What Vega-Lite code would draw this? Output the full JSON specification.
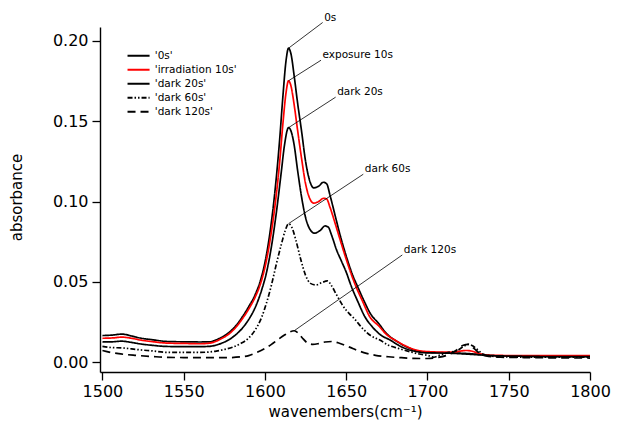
{
  "$schema": "https://vega.github.io/schema/vega-lite/v6.json",
  "width": 490,
  "height": 345,
  "autosize": {"type": "none"},
  "padding": {"left": 100, "top": 27, "right": 27, "bottom": 58},
  "background": "white",
  "config": {
    "view": {"stroke": null},
    "font": "DejaVu Sans",
    "axis": {
      "domainColor": "black", "domainWidth": 1.4, "tickColor": "black", "tickWidth": 1.3, "tickSize": 8,
      "labelColor": "black", "labelFont": "DejaVu Sans", "labelFontSize": 16,
      "titleColor": "black", "titleFont": "DejaVu Sans", "titleFontSize": 15, "titleFontWeight": "normal",
      "grid": false
    }
  },
  "datasets": {
    "spectra": [
      {"series": "'0s'", "wavenumber": 1500, "absorbance": 0.0165},
      {"series": "'0s'", "wavenumber": 1506, "absorbance": 0.0168},
      {"series": "'0s'", "wavenumber": 1512, "absorbance": 0.0174},
      {"series": "'0s'", "wavenumber": 1518, "absorbance": 0.0162},
      {"series": "'0s'", "wavenumber": 1524, "absorbance": 0.0148},
      {"series": "'0s'", "wavenumber": 1530, "absorbance": 0.0140},
      {"series": "'0s'", "wavenumber": 1540, "absorbance": 0.0128},
      {"series": "'0s'", "wavenumber": 1550, "absorbance": 0.0126},
      {"series": "'0s'", "wavenumber": 1560, "absorbance": 0.0125},
      {"series": "'0s'", "wavenumber": 1566, "absorbance": 0.0126},
      {"series": "'0s'", "wavenumber": 1570, "absorbance": 0.0138},
      {"series": "'0s'", "wavenumber": 1574, "absorbance": 0.0158},
      {"series": "'0s'", "wavenumber": 1578, "absorbance": 0.0185},
      {"series": "'0s'", "wavenumber": 1582, "absorbance": 0.0225},
      {"series": "'0s'", "wavenumber": 1586, "absorbance": 0.0280},
      {"series": "'0s'", "wavenumber": 1590, "absorbance": 0.0345},
      {"series": "'0s'", "wavenumber": 1594, "absorbance": 0.0420},
      {"series": "'0s'", "wavenumber": 1597, "absorbance": 0.0500},
      {"series": "'0s'", "wavenumber": 1600, "absorbance": 0.0620},
      {"series": "'0s'", "wavenumber": 1603, "absorbance": 0.0800},
      {"series": "'0s'", "wavenumber": 1606, "absorbance": 0.1050},
      {"series": "'0s'", "wavenumber": 1609, "absorbance": 0.1380},
      {"series": "'0s'", "wavenumber": 1611, "absorbance": 0.1650},
      {"series": "'0s'", "wavenumber": 1613, "absorbance": 0.1880},
      {"series": "'0s'", "wavenumber": 1614.5, "absorbance": 0.1955},
      {"series": "'0s'", "wavenumber": 1616, "absorbance": 0.1920},
      {"series": "'0s'", "wavenumber": 1618, "absorbance": 0.1780},
      {"series": "'0s'", "wavenumber": 1620, "absorbance": 0.1620},
      {"series": "'0s'", "wavenumber": 1622.5, "absorbance": 0.1440},
      {"series": "'0s'", "wavenumber": 1625, "absorbance": 0.1250},
      {"series": "'0s'", "wavenumber": 1627.5, "absorbance": 0.1130},
      {"series": "'0s'", "wavenumber": 1630, "absorbance": 0.1085},
      {"series": "'0s'", "wavenumber": 1633, "absorbance": 0.1095},
      {"series": "'0s'", "wavenumber": 1636, "absorbance": 0.1120},
      {"series": "'0s'", "wavenumber": 1638, "absorbance": 0.1110},
      {"series": "'0s'", "wavenumber": 1640, "absorbance": 0.1040},
      {"series": "'0s'", "wavenumber": 1643, "absorbance": 0.0920},
      {"series": "'0s'", "wavenumber": 1646, "absorbance": 0.0800},
      {"series": "'0s'", "wavenumber": 1650, "absorbance": 0.0660},
      {"series": "'0s'", "wavenumber": 1654, "absorbance": 0.0540},
      {"series": "'0s'", "wavenumber": 1657, "absorbance": 0.0470},
      {"series": "'0s'", "wavenumber": 1661, "absorbance": 0.0380},
      {"series": "'0s'", "wavenumber": 1665, "absorbance": 0.0300},
      {"series": "'0s'", "wavenumber": 1670, "absorbance": 0.0240},
      {"series": "'0s'", "wavenumber": 1675, "absorbance": 0.0175},
      {"series": "'0s'", "wavenumber": 1681, "absorbance": 0.0130},
      {"series": "'0s'", "wavenumber": 1687, "absorbance": 0.0095},
      {"series": "'0s'", "wavenumber": 1693, "absorbance": 0.0072},
      {"series": "'0s'", "wavenumber": 1700, "absorbance": 0.0060},
      {"series": "'0s'", "wavenumber": 1710, "absorbance": 0.0058},
      {"series": "'0s'", "wavenumber": 1720, "absorbance": 0.0055},
      {"series": "'0s'", "wavenumber": 1726, "absorbance": 0.0052},
      {"series": "'0s'", "wavenumber": 1732, "absorbance": 0.0047},
      {"series": "'0s'", "wavenumber": 1740, "absorbance": 0.0040},
      {"series": "'0s'", "wavenumber": 1760, "absorbance": 0.0036},
      {"series": "'0s'", "wavenumber": 1780, "absorbance": 0.0035},
      {"series": "'0s'", "wavenumber": 1800, "absorbance": 0.0035},

      {"series": "'irradiation 10s'", "wavenumber": 1500, "absorbance": 0.0148},
      {"series": "'irradiation 10s'", "wavenumber": 1506, "absorbance": 0.0150},
      {"series": "'irradiation 10s'", "wavenumber": 1512, "absorbance": 0.0155},
      {"series": "'irradiation 10s'", "wavenumber": 1518, "absorbance": 0.0148},
      {"series": "'irradiation 10s'", "wavenumber": 1524, "absorbance": 0.0136},
      {"series": "'irradiation 10s'", "wavenumber": 1530, "absorbance": 0.0128},
      {"series": "'irradiation 10s'", "wavenumber": 1540, "absorbance": 0.0118},
      {"series": "'irradiation 10s'", "wavenumber": 1550, "absorbance": 0.0116},
      {"series": "'irradiation 10s'", "wavenumber": 1560, "absorbance": 0.0114},
      {"series": "'irradiation 10s'", "wavenumber": 1566, "absorbance": 0.0118},
      {"series": "'irradiation 10s'", "wavenumber": 1570, "absorbance": 0.0130},
      {"series": "'irradiation 10s'", "wavenumber": 1574, "absorbance": 0.0150},
      {"series": "'irradiation 10s'", "wavenumber": 1578, "absorbance": 0.0176},
      {"series": "'irradiation 10s'", "wavenumber": 1582, "absorbance": 0.0215},
      {"series": "'irradiation 10s'", "wavenumber": 1586, "absorbance": 0.0268},
      {"series": "'irradiation 10s'", "wavenumber": 1590, "absorbance": 0.0330},
      {"series": "'irradiation 10s'", "wavenumber": 1594, "absorbance": 0.0405},
      {"series": "'irradiation 10s'", "wavenumber": 1597, "absorbance": 0.0480},
      {"series": "'irradiation 10s'", "wavenumber": 1600, "absorbance": 0.0590},
      {"series": "'irradiation 10s'", "wavenumber": 1603, "absorbance": 0.0750},
      {"series": "'irradiation 10s'", "wavenumber": 1606, "absorbance": 0.0960},
      {"series": "'irradiation 10s'", "wavenumber": 1609, "absorbance": 0.1240},
      {"series": "'irradiation 10s'", "wavenumber": 1611, "absorbance": 0.1480},
      {"series": "'irradiation 10s'", "wavenumber": 1613, "absorbance": 0.1680},
      {"series": "'irradiation 10s'", "wavenumber": 1614.5, "absorbance": 0.1752},
      {"series": "'irradiation 10s'", "wavenumber": 1616, "absorbance": 0.1720},
      {"series": "'irradiation 10s'", "wavenumber": 1618, "absorbance": 0.1600},
      {"series": "'irradiation 10s'", "wavenumber": 1620, "absorbance": 0.1450},
      {"series": "'irradiation 10s'", "wavenumber": 1622.5, "absorbance": 0.1270},
      {"series": "'irradiation 10s'", "wavenumber": 1625, "absorbance": 0.1110},
      {"series": "'irradiation 10s'", "wavenumber": 1627.5, "absorbance": 0.1020},
      {"series": "'irradiation 10s'", "wavenumber": 1630, "absorbance": 0.0990},
      {"series": "'irradiation 10s'", "wavenumber": 1633, "absorbance": 0.1000},
      {"series": "'irradiation 10s'", "wavenumber": 1636, "absorbance": 0.1020},
      {"series": "'irradiation 10s'", "wavenumber": 1638, "absorbance": 0.1015},
      {"series": "'irradiation 10s'", "wavenumber": 1640, "absorbance": 0.0965},
      {"series": "'irradiation 10s'", "wavenumber": 1643, "absorbance": 0.0870},
      {"series": "'irradiation 10s'", "wavenumber": 1646, "absorbance": 0.0770},
      {"series": "'irradiation 10s'", "wavenumber": 1650, "absorbance": 0.0640},
      {"series": "'irradiation 10s'", "wavenumber": 1653, "absorbance": 0.0550},
      {"series": "'irradiation 10s'", "wavenumber": 1656, "absorbance": 0.0470},
      {"series": "'irradiation 10s'", "wavenumber": 1660, "absorbance": 0.0380},
      {"series": "'irradiation 10s'", "wavenumber": 1664.5, "absorbance": 0.0282},
      {"series": "'irradiation 10s'", "wavenumber": 1670, "absorbance": 0.0225},
      {"series": "'irradiation 10s'", "wavenumber": 1675, "absorbance": 0.0170},
      {"series": "'irradiation 10s'", "wavenumber": 1680, "absorbance": 0.0137},
      {"series": "'irradiation 10s'", "wavenumber": 1687, "absorbance": 0.0098},
      {"series": "'irradiation 10s'", "wavenumber": 1693, "absorbance": 0.0075},
      {"series": "'irradiation 10s'", "wavenumber": 1700, "absorbance": 0.0065},
      {"series": "'irradiation 10s'", "wavenumber": 1710, "absorbance": 0.0062},
      {"series": "'irradiation 10s'", "wavenumber": 1716, "absorbance": 0.0062},
      {"series": "'irradiation 10s'", "wavenumber": 1720, "absorbance": 0.0068},
      {"series": "'irradiation 10s'", "wavenumber": 1724, "absorbance": 0.0072},
      {"series": "'irradiation 10s'", "wavenumber": 1728, "absorbance": 0.0066},
      {"series": "'irradiation 10s'", "wavenumber": 1732, "absorbance": 0.0052},
      {"series": "'irradiation 10s'", "wavenumber": 1740, "absorbance": 0.0042},
      {"series": "'irradiation 10s'", "wavenumber": 1760, "absorbance": 0.0040},
      {"series": "'irradiation 10s'", "wavenumber": 1780, "absorbance": 0.0040},
      {"series": "'irradiation 10s'", "wavenumber": 1800, "absorbance": 0.0040},

      {"series": "'dark 20s'", "wavenumber": 1500, "absorbance": 0.0125},
      {"series": "'dark 20s'", "wavenumber": 1506, "absorbance": 0.0126},
      {"series": "'dark 20s'", "wavenumber": 1512, "absorbance": 0.0130},
      {"series": "'dark 20s'", "wavenumber": 1518, "absorbance": 0.0122},
      {"series": "'dark 20s'", "wavenumber": 1524, "absorbance": 0.0112},
      {"series": "'dark 20s'", "wavenumber": 1530, "absorbance": 0.0105},
      {"series": "'dark 20s'", "wavenumber": 1540, "absorbance": 0.0097},
      {"series": "'dark 20s'", "wavenumber": 1550, "absorbance": 0.0096},
      {"series": "'dark 20s'", "wavenumber": 1560, "absorbance": 0.0096},
      {"series": "'dark 20s'", "wavenumber": 1566, "absorbance": 0.0098},
      {"series": "'dark 20s'", "wavenumber": 1570, "absorbance": 0.0106},
      {"series": "'dark 20s'", "wavenumber": 1574, "absorbance": 0.0120},
      {"series": "'dark 20s'", "wavenumber": 1578, "absorbance": 0.0140},
      {"series": "'dark 20s'", "wavenumber": 1582, "absorbance": 0.0170},
      {"series": "'dark 20s'", "wavenumber": 1586, "absorbance": 0.0210},
      {"series": "'dark 20s'", "wavenumber": 1590, "absorbance": 0.0265},
      {"series": "'dark 20s'", "wavenumber": 1594, "absorbance": 0.0340},
      {"series": "'dark 20s'", "wavenumber": 1598, "absorbance": 0.0450},
      {"series": "'dark 20s'", "wavenumber": 1601, "absorbance": 0.0560},
      {"series": "'dark 20s'", "wavenumber": 1604, "absorbance": 0.0720},
      {"series": "'dark 20s'", "wavenumber": 1607, "absorbance": 0.0930},
      {"series": "'dark 20s'", "wavenumber": 1610, "absorbance": 0.1180},
      {"series": "'dark 20s'", "wavenumber": 1612, "absorbance": 0.1350},
      {"series": "'dark 20s'", "wavenumber": 1614.5, "absorbance": 0.1460},
      {"series": "'dark 20s'", "wavenumber": 1616, "absorbance": 0.1440},
      {"series": "'dark 20s'", "wavenumber": 1618, "absorbance": 0.1350},
      {"series": "'dark 20s'", "wavenumber": 1620, "absorbance": 0.1200},
      {"series": "'dark 20s'", "wavenumber": 1622.5, "absorbance": 0.1030},
      {"series": "'dark 20s'", "wavenumber": 1625, "absorbance": 0.0900},
      {"series": "'dark 20s'", "wavenumber": 1627.5, "absorbance": 0.0830},
      {"series": "'dark 20s'", "wavenumber": 1630.5, "absorbance": 0.0803},
      {"series": "'dark 20s'", "wavenumber": 1634, "absorbance": 0.0820},
      {"series": "'dark 20s'", "wavenumber": 1637, "absorbance": 0.0848},
      {"series": "'dark 20s'", "wavenumber": 1639, "absorbance": 0.0840},
      {"series": "'dark 20s'", "wavenumber": 1641, "absorbance": 0.0790},
      {"series": "'dark 20s'", "wavenumber": 1644, "absorbance": 0.0700},
      {"series": "'dark 20s'", "wavenumber": 1647, "absorbance": 0.0630},
      {"series": "'dark 20s'", "wavenumber": 1650, "absorbance": 0.0560},
      {"series": "'dark 20s'", "wavenumber": 1653, "absorbance": 0.0475},
      {"series": "'dark 20s'", "wavenumber": 1657, "absorbance": 0.0380},
      {"series": "'dark 20s'", "wavenumber": 1661.5, "absorbance": 0.0282},
      {"series": "'dark 20s'", "wavenumber": 1666, "absorbance": 0.0220},
      {"series": "'dark 20s'", "wavenumber": 1671, "absorbance": 0.0170},
      {"series": "'dark 20s'", "wavenumber": 1677, "absorbance": 0.0137},
      {"series": "'dark 20s'", "wavenumber": 1683, "absorbance": 0.0100},
      {"series": "'dark 20s'", "wavenumber": 1689, "absorbance": 0.0075},
      {"series": "'dark 20s'", "wavenumber": 1695, "absorbance": 0.0062},
      {"series": "'dark 20s'", "wavenumber": 1700, "absorbance": 0.0057},
      {"series": "'dark 20s'", "wavenumber": 1710, "absorbance": 0.0056},
      {"series": "'dark 20s'", "wavenumber": 1720, "absorbance": 0.0052},
      {"series": "'dark 20s'", "wavenumber": 1730, "absorbance": 0.0046},
      {"series": "'dark 20s'", "wavenumber": 1740, "absorbance": 0.0040},
      {"series": "'dark 20s'", "wavenumber": 1760, "absorbance": 0.0036},
      {"series": "'dark 20s'", "wavenumber": 1780, "absorbance": 0.0034},
      {"series": "'dark 20s'", "wavenumber": 1800, "absorbance": 0.0034},

      {"series": "'dark 60s'", "wavenumber": 1500, "absorbance": 0.0098},
      {"series": "'dark 60s'", "wavenumber": 1506, "absorbance": 0.0090},
      {"series": "'dark 60s'", "wavenumber": 1512, "absorbance": 0.0088},
      {"series": "'dark 60s'", "wavenumber": 1518, "absorbance": 0.0082},
      {"series": "'dark 60s'", "wavenumber": 1524, "absorbance": 0.0075},
      {"series": "'dark 60s'", "wavenumber": 1530, "absorbance": 0.0070},
      {"series": "'dark 60s'", "wavenumber": 1540, "absorbance": 0.0060},
      {"series": "'dark 60s'", "wavenumber": 1550, "absorbance": 0.0060},
      {"series": "'dark 60s'", "wavenumber": 1560, "absorbance": 0.0060},
      {"series": "'dark 60s'", "wavenumber": 1566, "absorbance": 0.0063},
      {"series": "'dark 60s'", "wavenumber": 1570, "absorbance": 0.0068},
      {"series": "'dark 60s'", "wavenumber": 1575, "absorbance": 0.0078},
      {"series": "'dark 60s'", "wavenumber": 1580, "absorbance": 0.0092},
      {"series": "'dark 60s'", "wavenumber": 1585, "absorbance": 0.0115},
      {"series": "'dark 60s'", "wavenumber": 1590, "absorbance": 0.0150},
      {"series": "'dark 60s'", "wavenumber": 1594, "absorbance": 0.0200},
      {"series": "'dark 60s'", "wavenumber": 1598, "absorbance": 0.0280},
      {"series": "'dark 60s'", "wavenumber": 1601, "absorbance": 0.0370},
      {"series": "'dark 60s'", "wavenumber": 1604, "absorbance": 0.0480},
      {"series": "'dark 60s'", "wavenumber": 1607, "absorbance": 0.0610},
      {"series": "'dark 60s'", "wavenumber": 1610, "absorbance": 0.0730},
      {"series": "'dark 60s'", "wavenumber": 1612.5, "absorbance": 0.0820},
      {"series": "'dark 60s'", "wavenumber": 1614.5, "absorbance": 0.0862},
      {"series": "'dark 60s'", "wavenumber": 1616.5, "absorbance": 0.0840},
      {"series": "'dark 60s'", "wavenumber": 1619, "absorbance": 0.0760},
      {"series": "'dark 60s'", "wavenumber": 1622, "absorbance": 0.0640},
      {"series": "'dark 60s'", "wavenumber": 1625, "absorbance": 0.0540},
      {"series": "'dark 60s'", "wavenumber": 1628, "absorbance": 0.0490},
      {"series": "'dark 60s'", "wavenumber": 1631.5, "absorbance": 0.0480},
      {"series": "'dark 60s'", "wavenumber": 1635, "absorbance": 0.0495},
      {"series": "'dark 60s'", "wavenumber": 1638.5, "absorbance": 0.0505},
      {"series": "'dark 60s'", "wavenumber": 1641, "absorbance": 0.0475},
      {"series": "'dark 60s'", "wavenumber": 1644, "absorbance": 0.0420},
      {"series": "'dark 60s'", "wavenumber": 1648, "absorbance": 0.0350},
      {"series": "'dark 60s'", "wavenumber": 1652, "absorbance": 0.0300},
      {"series": "'dark 60s'", "wavenumber": 1655, "absorbance": 0.0270},
      {"series": "'dark 60s'", "wavenumber": 1660, "absorbance": 0.0210},
      {"series": "'dark 60s'", "wavenumber": 1665, "absorbance": 0.0165},
      {"series": "'dark 60s'", "wavenumber": 1670.7, "absorbance": 0.0137},
      {"series": "'dark 60s'", "wavenumber": 1676, "absorbance": 0.0105},
      {"series": "'dark 60s'", "wavenumber": 1682, "absorbance": 0.0085},
      {"series": "'dark 60s'", "wavenumber": 1689, "absorbance": 0.0065},
      {"series": "'dark 60s'", "wavenumber": 1695, "absorbance": 0.0050},
      {"series": "'dark 60s'", "wavenumber": 1700, "absorbance": 0.0042},
      {"series": "'dark 60s'", "wavenumber": 1704, "absorbance": 0.0030},
      {"series": "'dark 60s'", "wavenumber": 1708, "absorbance": 0.0045},
      {"series": "'dark 60s'", "wavenumber": 1713, "absorbance": 0.0060},
      {"series": "'dark 60s'", "wavenumber": 1718, "absorbance": 0.0070},
      {"series": "'dark 60s'", "wavenumber": 1722, "absorbance": 0.0095},
      {"series": "'dark 60s'", "wavenumber": 1725, "absorbance": 0.0110},
      {"series": "'dark 60s'", "wavenumber": 1728, "absorbance": 0.0100},
      {"series": "'dark 60s'", "wavenumber": 1731, "absorbance": 0.0075},
      {"series": "'dark 60s'", "wavenumber": 1734, "absorbance": 0.0050},
      {"series": "'dark 60s'", "wavenumber": 1738, "absorbance": 0.0038},
      {"series": "'dark 60s'", "wavenumber": 1750, "absorbance": 0.0032},
      {"series": "'dark 60s'", "wavenumber": 1770, "absorbance": 0.0030},
      {"series": "'dark 60s'", "wavenumber": 1790, "absorbance": 0.0030},
      {"series": "'dark 60s'", "wavenumber": 1800, "absorbance": 0.0030},

      {"series": "'dark 120s'", "wavenumber": 1500, "absorbance": 0.0072},
      {"series": "'dark 120s'", "wavenumber": 1505, "absorbance": 0.0060},
      {"series": "'dark 120s'", "wavenumber": 1510, "absorbance": 0.0052},
      {"series": "'dark 120s'", "wavenumber": 1520, "absorbance": 0.0042},
      {"series": "'dark 120s'", "wavenumber": 1530, "absorbance": 0.0035},
      {"series": "'dark 120s'", "wavenumber": 1540, "absorbance": 0.0029},
      {"series": "'dark 120s'", "wavenumber": 1550, "absorbance": 0.0028},
      {"series": "'dark 120s'", "wavenumber": 1560, "absorbance": 0.0027},
      {"series": "'dark 120s'", "wavenumber": 1575, "absorbance": 0.0027},
      {"series": "'dark 120s'", "wavenumber": 1585, "absorbance": 0.0032},
      {"series": "'dark 120s'", "wavenumber": 1590, "absorbance": 0.0040},
      {"series": "'dark 120s'", "wavenumber": 1595, "absorbance": 0.0060},
      {"series": "'dark 120s'", "wavenumber": 1600, "absorbance": 0.0085},
      {"series": "'dark 120s'", "wavenumber": 1604, "absorbance": 0.0110},
      {"series": "'dark 120s'", "wavenumber": 1608, "absorbance": 0.0140},
      {"series": "'dark 120s'", "wavenumber": 1612, "absorbance": 0.0168},
      {"series": "'dark 120s'", "wavenumber": 1615, "absorbance": 0.0186},
      {"series": "'dark 120s'", "wavenumber": 1618, "absorbance": 0.0195},
      {"series": "'dark 120s'", "wavenumber": 1620.5, "absorbance": 0.0180},
      {"series": "'dark 120s'", "wavenumber": 1623, "absorbance": 0.0150},
      {"series": "'dark 120s'", "wavenumber": 1626, "absorbance": 0.0120},
      {"series": "'dark 120s'", "wavenumber": 1629.5, "absorbance": 0.0110},
      {"series": "'dark 120s'", "wavenumber": 1633, "absorbance": 0.0115},
      {"series": "'dark 120s'", "wavenumber": 1637, "absorbance": 0.0125},
      {"series": "'dark 120s'", "wavenumber": 1641, "absorbance": 0.0128},
      {"series": "'dark 120s'", "wavenumber": 1645, "absorbance": 0.0120},
      {"series": "'dark 120s'", "wavenumber": 1649, "absorbance": 0.0105},
      {"series": "'dark 120s'", "wavenumber": 1652, "absorbance": 0.0093},
      {"series": "'dark 120s'", "wavenumber": 1657, "absorbance": 0.0072},
      {"series": "'dark 120s'", "wavenumber": 1662.5, "absorbance": 0.0054},
      {"series": "'dark 120s'", "wavenumber": 1668, "absorbance": 0.0042},
      {"series": "'dark 120s'", "wavenumber": 1676, "absorbance": 0.0033},
      {"series": "'dark 120s'", "wavenumber": 1684, "absorbance": 0.0027},
      {"series": "'dark 120s'", "wavenumber": 1691, "absorbance": 0.0023},
      {"series": "'dark 120s'", "wavenumber": 1700, "absorbance": 0.0022},
      {"series": "'dark 120s'", "wavenumber": 1706, "absorbance": 0.0028},
      {"series": "'dark 120s'", "wavenumber": 1712, "absorbance": 0.0042},
      {"series": "'dark 120s'", "wavenumber": 1718, "absorbance": 0.0075},
      {"series": "'dark 120s'", "wavenumber": 1722, "absorbance": 0.0105},
      {"series": "'dark 120s'", "wavenumber": 1725, "absorbance": 0.0110},
      {"series": "'dark 120s'", "wavenumber": 1728, "absorbance": 0.0090},
      {"series": "'dark 120s'", "wavenumber": 1732, "absorbance": 0.0055},
      {"series": "'dark 120s'", "wavenumber": 1736, "absorbance": 0.0038},
      {"series": "'dark 120s'", "wavenumber": 1745, "absorbance": 0.0030},
      {"series": "'dark 120s'", "wavenumber": 1760, "absorbance": 0.0028},
      {"series": "'dark 120s'", "wavenumber": 1780, "absorbance": 0.0026},
      {"series": "'dark 120s'", "wavenumber": 1800, "absorbance": 0.0025}
    ],
    "notes": [
      {"note": "0s", "peak_wn": 1614.5, "peak_abs": 0.1955, "label_wn": 1635.5, "label_abs": 0.2115},
      {"note": "exposure 10s", "peak_wn": 1614.5, "peak_abs": 0.1752, "label_wn": 1634.5, "label_abs": 0.188},
      {"note": "dark 20s", "peak_wn": 1614.5, "peak_abs": 0.146, "label_wn": 1643.5, "label_abs": 0.165},
      {"note": "dark 60s", "peak_wn": 1614.5, "peak_abs": 0.0862, "label_wn": 1660.5, "label_abs": 0.117},
      {"note": "dark 120s", "peak_wn": 1618, "peak_abs": 0.0195, "label_wn": 1684.5, "label_abs": 0.0667}
    ]
  },
  "layer": [
    {
      "data": {"name": "spectra"},
      "mark": {"type": "line", "interpolate": "monotone", "strokeWidth": 1.7, "clip": true},
      "encoding": {
        "x": {
          "field": "wavenumber", "type": "quantitative",
          "scale": {"domain": [1498.5, 1800], "nice": false, "zero": false},
          "axis": {"values": [1500, 1550, 1600, 1650, 1700, 1750, 1800], "format": "d", "labelPadding": 3, "labelFlush": false, "titleBaseline": "alphabetic", "titleY": 44.5},
          "title": "wavenembers(cm⁻¹)"
        },
        "y": {
          "field": "absorbance", "type": "quantitative",
          "scale": {"domain": [-0.0062, 0.2087], "nice": false, "zero": false},
          "axis": {"values": [0, 0.05, 0.1, 0.15, 0.2], "format": ".2f", "labelPadding": 4, "labelFlush": false, "titleX": -84, "titleY": 170, "titleBaseline": "middle", "titleAngle": 270},
          "title": "absorbance"
        },
        "color": {
          "field": "series", "type": "nominal",
          "scale": {
            "domain": ["'0s'", "'irradiation 10s'", "'dark 20s'", "'dark 60s'", "'dark 120s'"],
            "range": ["#000000", "#ff0000", "#000000", "#000000", "#000000"]
          },
          "legend": {
            "title": null, "orient": "none", "legendX": 33.3, "legendY": 23.5, "padding": 0,
            "symbolType": "M-3,0H3", "symbolSize": 54, "symbolStrokeWidth": 1.8, "symbolFillColor": "transparent",
            "labelFont": "DejaVu Sans", "labelFontSize": 10.5, "labelColor": "black", "labelOffset": 11, "rowPadding": 3
          }
        },
        "strokeDash": {
          "field": "series", "type": "nominal",
          "scale": {
            "domain": ["'0s'", "'irradiation 10s'", "'dark 20s'", "'dark 60s'", "'dark 120s'"],
            "range": [[1, 0], [1, 0], [1, 0], [5, 2, 1.5, 2, 1.5, 2], [8, 5]]
          },
          "legend": {
            "title": null, "orient": "none", "legendX": 33.3, "legendY": 23.5, "padding": 0,
            "symbolType": "M-3,0H3", "symbolSize": 54, "symbolStrokeWidth": 1.8, "symbolFillColor": "transparent",
            "labelFont": "DejaVu Sans", "labelFontSize": 10.5, "labelColor": "black", "labelOffset": 11, "rowPadding": 3
          }
        }
      }
    },
    {
      "data": {"name": "notes"},
      "mark": {"type": "rule", "color": "black", "strokeWidth": 0.8},
      "encoding": {
        "x": {"field": "peak_wn", "type": "quantitative"},
        "y": {"field": "peak_abs", "type": "quantitative"},
        "x2": {"field": "label_wn"},
        "y2": {"field": "label_abs"}
      }
    },
    {
      "data": {"name": "notes"},
      "mark": {"type": "text", "align": "left", "baseline": "alphabetic", "dx": 1.5, "dy": -2, "font": "DejaVu Sans", "fontSize": 10.5, "color": "black"},
      "encoding": {
        "x": {"field": "label_wn", "type": "quantitative"},
        "y": {"field": "label_abs", "type": "quantitative"},
        "text": {"field": "note"}
      }
    }
  ]
}
